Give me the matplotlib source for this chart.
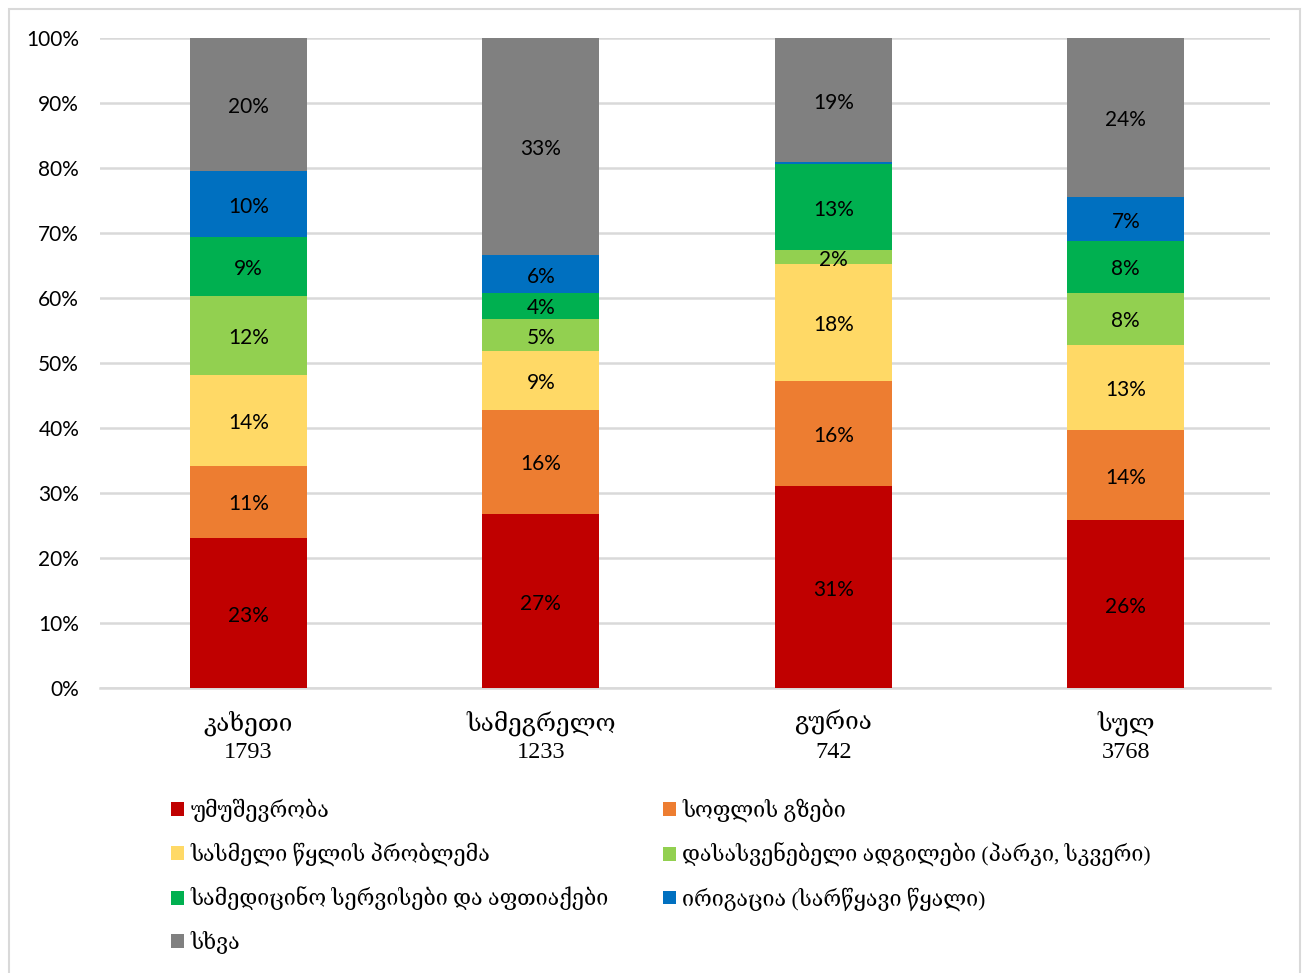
import numpy as np
import matplotlib.pyplot as plt
from matplotlib.patches import Patch, Rectangle

regions = ['კახეთი\n1793', 'სამეგრელო\n1233', 'გურია\n742', 'სულ\n3768']

series = ['უმუშევრობა', 'სოფლის გზები', 'სასმელი წყლის პრობლემა',
          'დასასვენებელი ადგილები (პარკი, სკვერი)',
          'სამედიცინო სერვისები და აფთიაქები',
          'ირიგაცია (სარწყავი წყალი)', 'სხვა']

unemployment = [23.1, 26.8, 31.1, 25.8]
village_roads = [11.1, 16.0, 16.1, 13.9]
drinking_water = [14.0, 9.0, 18.0, 13.1]
recreation = [12.1, 5.0, 2.2, 8.0]
medical = [9.1, 4.0, 13.2, 8.0]
irrigation = [10.1, 5.8, 0.3, 6.7]
other = [20.5, 33.4, 19.1, 24.5]

colors = ['#C00000', '#ED7D31', '#FFD966', '#92D050', '#00B050', '#0070C0', '#808080']

values = [unemployment, village_roads, drinking_water, recreation,
          medical, irrigation, other]

sans = ['Lato', 'DejaVu Sans']
serif = ['Liberation Serif', 'DejaVu Serif']

fig = plt.figure(figsize=(13.06, 9.73), dpi=100)
fig.patches.append(Rectangle((9/1306, -0.01), 1291/1306, 1 - 9/973 + 0.01,
                             transform=fig.transFigure, fill=False,
                             edgecolor='#d9d9d9', linewidth=1.5))
ax = fig.add_axes([100/1306, 1 - 688/973, 1170/1306, 650/973])

x = np.arange(len(regions))
bottom = np.zeros(len(regions))
for vals, col in zip(values, colors):
    vals = np.array(vals)
    ax.bar(x, vals, 0.40, bottom=bottom, color=col, zorder=3)
    for xi, b, v in zip(x, bottom, vals):
        if v >= 1:
            ax.text(xi, b + v / 2 - 0.4, f'{v:.0f}%', ha='center', va='center',
                    fontsize=15, family=sans, color='black', zorder=4)
    bottom += vals

ax.set_xlim(-0.507, 3.493)
ax.set_ylim(0, 100)
ax.set_yticks(np.arange(0, 101, 10))
ax.set_yticklabels([f'{t}%' for t in range(0, 101, 10)], family=sans, fontsize=15)
ax.set_xticks(x)
ax.set_xticklabels(regions, family=serif, fontsize=17.5, linespacing=1.4)
ax.yaxis.grid(True, color='#d9d9d9', linewidth=1.8, zorder=0)
ax.tick_params(axis='both', length=0)
ax.tick_params(axis='y', pad=15)
ax.tick_params(axis='x', pad=16)
for s in ['top', 'right', 'left']:
    ax.spines[s].set_visible(False)
ax.spines['bottom'].set_color('#d9d9d9')
ax.spines['bottom'].set_linewidth(1.8)

order = [0, 2, 4, 6, 1, 3, 5]
handles = [Patch(facecolor=colors[i]) for i in order]
labels = [series[i] for i in order]
fig.legend(handles, labels, ncol=2, loc='upper left',
           bbox_to_anchor=(152/1306, 1 - 779/973), frameon=False,
           prop={'family': serif, 'size': 15.5}, handlelength=0.6,
           handleheight=0.6, handletextpad=0.3, columnspacing=2.5,
           labelspacing=0.95)

fig.savefig('out.png', dpi=100)
